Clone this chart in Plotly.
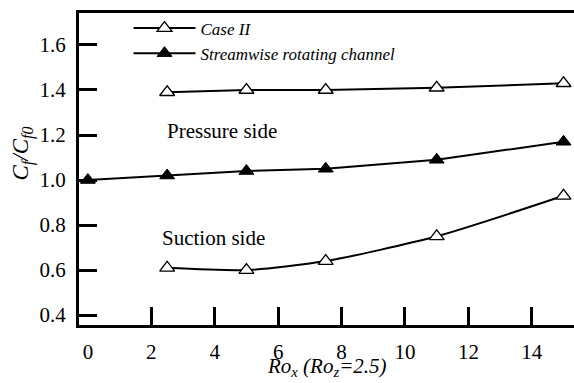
import plotly.graph_objects as go

# Skin-friction ratio Cf/Cf0 versus streamwise rotation number Ro_x (Ro_z = 2.5)
ro_x_case = [2.5, 5, 7.5, 11, 15]
cf_pressure = [1.39, 1.40, 1.40, 1.41, 1.43]
cf_suction = [0.61, 0.60, 0.64, 0.75, 0.93]

ro_x_stream = [0, 2.5, 5, 7.5, 11, 15]
cf_stream = [1.00, 1.02, 1.04, 1.05, 1.09, 1.17]

x_tick_labels = [0, 2, 4, 6, 8, 10, 12, 14]
x_tick_marks = [2, 4, 6, 8, 10, 12, 14]
y_ticks = [0.4, 0.6, 0.8, 1.0, 1.2, 1.4, 1.6]

SERIF = "Liberation Serif, Times New Roman, serif"

open_marker = dict(symbol="triangle-up", size=13, color="white",
                   line=dict(color="black", width=1.3))
filled_marker = dict(symbol="triangle-up", size=13, color="black",
                     line=dict(color="black", width=1))

fig = go.Figure()
fig.add_trace(go.Scatter(
    x=ro_x_case, y=cf_pressure, mode="lines+markers", name="Case II",
    line=dict(color="black", width=2), marker=open_marker,
))
fig.add_trace(go.Scatter(
    x=ro_x_stream, y=cf_stream, mode="lines+markers",
    name="Streamwise rotating channel",
    line=dict(color="black", width=2), marker=filled_marker,
))
fig.add_trace(go.Scatter(
    x=ro_x_case, y=cf_suction, mode="lines+markers", name="Case II",
    showlegend=False,
    line=dict(color="black", width=2, shape="spline", smoothing=0.7),
    marker=open_marker,
))
# invisible trace carrying the inward tick marks on the bottom axis
fig.add_trace(go.Scatter(x=[None], y=[None], xaxis="x2", showlegend=False,
                         hoverinfo="skip"))

x_range = [-0.28, 15.33]
y_range = [0.356, 1.742]

fig.update_layout(
    width=574, height=383,
    margin=dict(l=79, r=0, t=13, b=58),
    plot_bgcolor="white", paper_bgcolor="white",
    font=dict(family=SERIF, size=21, color="black"),
    xaxis=dict(
        range=x_range, tickmode="array", tickvals=x_tick_labels,
        ticks="", showgrid=False, zeroline=False,
        showline=True, linecolor="black", linewidth=3, mirror=True,
        tickfont=dict(family=SERIF, size=21), ticklabelstandoff=6,
    ),
    xaxis2=dict(
        range=x_range, overlaying="x", side="bottom", matches="x",
        tickmode="array", tickvals=x_tick_marks, ticks="inside",
        ticklen=18, tickwidth=3, tickcolor="black",
        showticklabels=False, showgrid=False, zeroline=False,
        showline=False,
    ),
    yaxis=dict(
        range=y_range, tickmode="array", tickvals=y_ticks,
        tickformat=".1f", ticks="inside", ticklen=18, tickwidth=3,
        tickcolor="black", showgrid=False, zeroline=False,
        showline=True, linecolor="black", linewidth=3,
        tickfont=dict(family=SERIF, size=21), ticklabelstandoff=6,
    ),
    legend=dict(
        x=0.1, y=1.008, xanchor="left", yanchor="top",
        bgcolor="rgba(0,0,0,0)", itemwidth=62, tracegroupgap=0,
        font=dict(family=SERIF, size=17, style="italic"),
    ),
    showlegend=True,
)

fig.add_annotation(x=2.43, y=1.218, xref="x", yref="y", xanchor="left",
                   text="Pressure side", showarrow=False,
                   font=dict(family=SERIF, size=21))
fig.add_annotation(x=2.27, y=0.742, xref="x", yref="y", xanchor="left",
                   text="Suction side", showarrow=False,
                   font=dict(family=SERIF, size=21))

fig.add_annotation(
    x=-0.115, y=0.55, xref="paper", yref="paper",
    text="<i>C<sub>f</sub>/C<sub>f0</sub></i>", textangle=-90,
    showarrow=False, font=dict(family=SERIF, size=23),
    xanchor="center", yanchor="middle",
)
fig.add_annotation(
    x=0.5, y=-0.088, xref="paper", yref="paper",
    text="<i>Ro<sub>x</sub> (Ro<sub>z</sub>=2.5)</i>",
    showarrow=False, font=dict(family=SERIF, size=21),
    xanchor="center", yanchor="top",
)

fig.write_html("out.html")
